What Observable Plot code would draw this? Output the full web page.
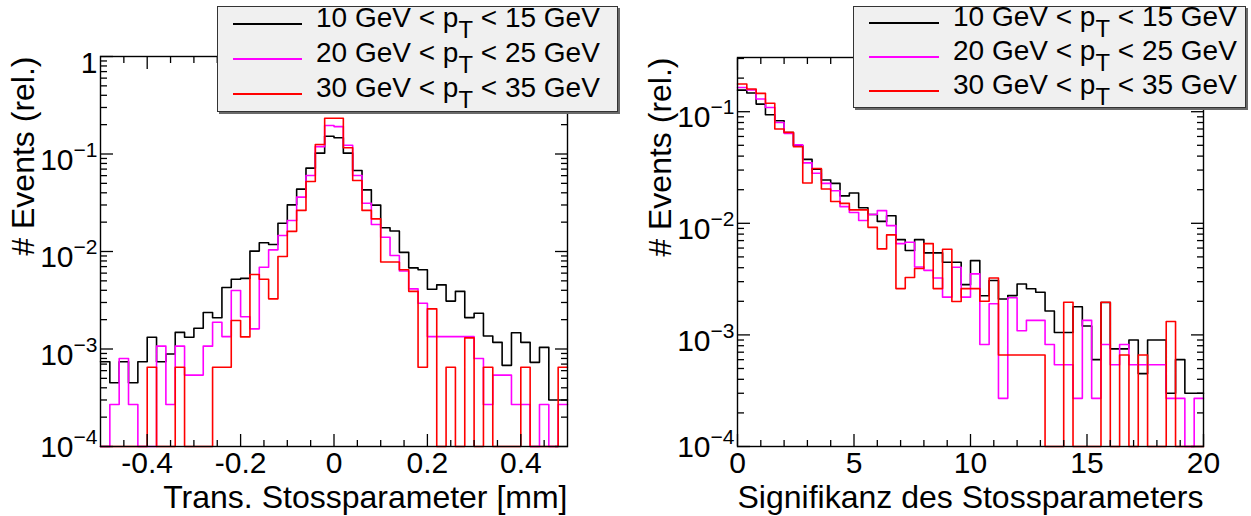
<!DOCTYPE html>
<html>
<head>
<meta charset="utf-8">
<script src="https://cdn.jsdelivr.net/npm/d3@7"></script>
<script src="https://cdn.jsdelivr.net/npm/@observablehq/plot@0.6"></script>
<style>
  body { margin: 0; background: #fff; font-family: "Liberation Sans", Arial, Helvetica, sans-serif; }
  #wrap { position: relative; width: 1251px; height: 516px; overflow: hidden; background: #fff; }
  .panel { position: absolute; top: 0; }
  .legend { position: absolute; background: #f0f0f0; border: 1px solid #333; box-shadow: 2px 2px 0 #6a6a6a; z-index: 5; }
  .legend .ln { position: absolute; height: 2px; }
  .legend .tx { position: absolute; font-size: 28px; line-height: 28px; white-space: nowrap; color: #000; }
  .legend .tx sub { font-size: 0.85em; vertical-align: -0.45em; line-height: 0; }
</style>
</head>
<body>
<div id="wrap"></div>
<script>
// ---------------- data ----------------
const ptLow = [10, 20, 30];
const ptHigh = [15, 25, 35];
const seriesColors = ["#000000", "#ff00ff", "#ff0000"];

// Left: transverse impact parameter, 50 bins in [-0.5, 0.5] mm
const ipRange = [-0.5, 0.5];
const ipPt10 = [7.4e-4, 4.5e-4, 7.4e-4, 4.5e-4, 7.4e-4, 1.32e-3, 7.4e-4, 8.9e-4, 1.48e-3, 1.32e-3,
  1.63e-3, 2.37e-3, 2.09e-3, 4.28e-3, 5.2e-3, 5.3e-3, 0.0101, 0.0123, 0.0118, 0.0195,
  0.0301, 0.0436, 0.0716, 0.102, 0.152, 0.147, 0.102, 0.0678, 0.0429, 0.0299,
  0.0175, 0.0162, 0.0098, 0.0068, 0.0065, 0.0041, 0.00455, 0.0031, 0.0039, 0.0021,
  0.00233, 0.00136, 0.00117, 0.00068, 0.00147, 0.00117, 0.00073, 0.00104, 0.0003, 0.0003];
const ipPt20 = [0, 2.7e-4, 8.0e-4, 2.7e-4, 0, 0, 1.07e-3, 2.7e-4, 1.07e-3, 5.4e-4,
  5.4e-4, 1.07e-3, 1.88e-3, 1.34e-3, 3.98e-3, 2.14e-3, 1.61e-3, 6.9e-3, 0.0104, 0.0146,
  0.0208, 0.0361, 0.0601, 0.119, 0.196, 0.191, 0.123, 0.0601, 0.0313, 0.0189,
  0.014, 0.0091, 0.0063, 0.00414, 0.00295, 0.00134, 0.00134, 0.00134, 0.00134, 0.00134,
  8.0e-4, 2.7e-4, 5.4e-4, 5.4e-4, 2.7e-4, 2.7e-4, 0, 2.7e-4, 0, 2.7e-4];
const ipPt30 = [0, 0, 0, 0, 0, 6.5e-4, 0, 0, 6.5e-4, 0,
  0, 0, 6.5e-4, 6.5e-4, 1.96e-3, 1.33e-3, 5.8e-3, 5.2e-3, 3.27e-3, 8.9e-3,
  0.0161, 0.0264, 0.0522, 0.125, 0.233, 0.233, 0.116, 0.0535, 0.0264, 0.0216,
  0.0078, 0.0078, 0.0065, 0.0039, 6.5e-4, 2.58e-3, 0, 6.5e-4, 0, 1.3e-3,
  0, 6.5e-4, 0, 0, 0, 6.5e-4, 0, 0, 0, 6.5e-4];

// Right: impact parameter significance, 50 bins in [0, 20]
const sigRange = [0, 20];
const sigPt10 = [0.156, 0.147, 0.117, 0.094, 0.083, 0.065, 0.0497, 0.0374, 0.0305, 0.0244,
  0.0228, 0.0176, 0.0187, 0.0138, 0.012, 0.0104, 0.0117, 0.00714, 0.0057, 0.00714,
  0.00543, 0.00543, 0.00448, 0.00448, 0.00282, 0.00463, 0.00224, 0.00307, 0.0021, 0.00225,
  0.00286, 0.00259, 0.00241, 0.00164, 0.00105, 0.00105, 0.00179, 0.0012, 0.0006, 0.00195,
  0.00075, 0.00075, 0.0009, 0.00045, 0.0009, 0.0009, 0.0003, 0.0006, 0.0003, 0.0003];
const sigPt20 = [0.165, 0.157, 0.130, 0.109, 0.080, 0.064, 0.0504, 0.0348, 0.0281, 0.0228,
  0.0196, 0.0141, 0.0125, 0.0106, 0.0120, 0.0130, 0.00953, 0.00658, 0.00676, 0.00406,
  0.00379, 0.00324, 0.00218, 0.00404, 0.00218, 0.00352, 0.00082, 0.0019, 0.00027, 0.00215,
  0.00109, 0.00135, 0.00135, 0.00082, 0.00054, 0.00054, 0.00027, 0.00135, 0.00027, 0.00082,
  0.00054, 0.00082, 0.00054, 0.00054, 0.00054, 0.00054, 0.00027, 0.00027, 0, 0.00027];
const sigPt30 = [0.177, 0.160, 0.146, 0.119, 0.070, 0.0653, 0.0486, 0.0230, 0.0310, 0.0203,
  0.0157, 0.0151, 0.0132, 0.0132, 0.0092, 0.0059, 0.00787, 0.0026, 0.00327, 0.00393,
  0.00658, 0.0026, 0.00585, 0.00199, 0.0026, 0.0026, 0.0020, 0.00324, 0.00066, 0.00066,
  0.00066, 0.00066, 0.00066, 0, 0, 0.00196, 0, 0, 0, 0.00196,
  0, 0.00066, 0, 0.00066, 0, 0, 0.00132, 0, 0, 0];

// tick labels
const ipXTicks = [-0.4, -0.2, 0, 0.2, 0.4];
const sigXTicks = [0, 5, 10, 15, 20];
const yDecades = [1e-4, 1e-3, 1e-2, 1e-1, 1];
const ipTitle = "Trans. Stossparameter [mm]";
const sigTitle = "Signifikanz des Stossparameters";
const yTitle = "# Events (rel.)";

// ---------------- drawing ----------------
const NS = "http://www.w3.org/2000/svg";
const FONT = '"Liberation Sans", Arial, Helvetica, sans-serif';

function panel(o) {
  const floor = o.yDomain[0];
  const data = [];
  o.series.forEach((vals, s) => {
    const n = vals.length, w = (o.range[1] - o.range[0]) / n;
    vals.forEach((v, i) => data.push({s, x: o.range[0] + i * w, y: v > 0 ? v : floor}));
    data.push({s, x: o.range[1], y: vals[n - 1] > 0 ? vals[n - 1] : floor});
  });
  const yMajor = yDecades.filter(d => d >= o.yDomain[0] * 0.999 && d <= o.yDomain[1] * 1.001);
  const yMinor = [];
  for (const d of yDecades) for (let m = 2; m <= 9; m++) { const v = m * d; if (v < o.yDomain[1]) yMinor.push(v); }
  const yFmt = d => d === 1 ? "1" : "10^" + Math.round(Math.log10(d));
  const F = 30, SW = 1.3;
  const svg = Plot.plot({
    width: o.width, height: 516,
    marginLeft: o.ml, marginRight: o.mr, marginTop: o.mt, marginBottom: 70,
    style: {fontFamily: FONT, fontSize: F + "px", background: "transparent", color: "#000"},
    x: {domain: o.range},
    y: {type: "log", domain: o.yDomain},
    color: {type: "ordinal", domain: [0, 1, 2], range: seriesColors},
    marks: [
      Plot.line(data, {x: "x", y: "y", z: "s", stroke: "s", curve: "step-after", strokeWidth: 1.6}),
      Plot.frame({stroke: "#000", strokeWidth: 1.4}),
      Plot.axisX({anchor: "bottom", ticks: o.xMajor, tickSize: 12, dy: -12, fill: "none", strokeWidth: SW}),
      Plot.axisX({anchor: "bottom", ticks: o.xMinor, tickSize: 6, dy: -6, fill: "none", strokeWidth: SW}),
      Plot.axisX({anchor: "top", ticks: o.xMajor, tickSize: 12, dy: 12, fill: "none", strokeWidth: SW}),
      Plot.axisX({anchor: "top", ticks: o.xMinor, tickSize: 6, dy: 6, fill: "none", strokeWidth: SW}),
      Plot.axisY({anchor: "left", ticks: yMajor, tickSize: 13, dx: 13, fill: "none", strokeWidth: SW}),
      Plot.axisY({anchor: "left", ticks: yMinor, tickSize: 7, dx: 7, fill: "none", strokeWidth: SW}),
      Plot.axisY({anchor: "right", ticks: yMajor, tickSize: 13, dx: -13, fill: "none", strokeWidth: SW}),
      Plot.axisY({anchor: "right", ticks: yMinor, tickSize: 7, dx: -7, fill: "none", strokeWidth: SW}),
      Plot.axisX({anchor: "bottom", ticks: o.xMajor, tickSize: 0, tickPadding: 5, tickFormat: o.xFmt, fontSize: F, label: null}),
      Plot.axisY({anchor: "left", ticks: yMajor, tickSize: 0, tickPadding: 3, tickFormat: yFmt, fontSize: F, label: null}),
      Plot.text([o.xTitle], {text: d => d, frameAnchor: "bottom-right", textAnchor: "end", lineAnchor: "middle", dy: 51, fontSize: 32}),
      Plot.text([yTitle], {text: d => d, frameAnchor: "top-left", rotate: -90, textAnchor: "end", lineAnchor: "middle", dx: -77, fontSize: 32})
    ]
  });
  // superscript exponents on the log axis labels
  svg.querySelectorAll('g[aria-label="y-axis tick label"] text').forEach(t => {
    const m = /^10\^(-?\d+)$/.exec(t.textContent);
    if (!m) { t.setAttribute("dy", "0.22em"); return; }
    const isBottom = Math.pow(10, +m[1]) <= o.yDomain[0] * 1.001;
    t.textContent = "";
    const a = document.createElementNS(NS, "tspan");
    a.textContent = "10";
    a.setAttribute("dy", isBottom ? "1" : "6");
    const b = document.createElementNS(NS, "tspan");
    b.textContent = m[1].replace("-", "\u2212");
    b.setAttribute("dy", "-13");
    b.setAttribute("font-size", "21");
    t.append(a, b);
  });
  svg.classList.add("panel");
  svg.style.left = o.left + "px";
  svg.style.width = o.width + "px";
  svg.style.height = "516px";
  svg.style.maxWidth = "none";
  return svg;
}

const wrap = document.getElementById("wrap");
const dashFmt = d => (d < 0 ? "-" : "") + Math.abs(d);

wrap.appendChild(panel({
  left: 0, width: 625, ml: 100, mr: 58, mt: 56,
  range: ipRange, yDomain: [1e-4, 1],
  series: [ipPt10, ipPt20, ipPt30],
  xMajor: ipXTicks,
  xMinor: d3.range(-0.45, 0.5, 0.05).filter(v => Math.abs(Math.round(v * 100) % 20) !== 0),
  xFmt: dashFmt, xTitle: ipTitle
}));

wrap.appendChild(panel({
  left: 625, width: 626, ml: 112, mr: 48, mt: 57,
  range: sigRange, yDomain: [1e-4, 0.306],
  series: [sigPt10, sigPt20, sigPt30],
  xMajor: sigXTicks,
  xMinor: d3.range(1, 20, 1).filter(v => v % 5 !== 0),
  xFmt: d => String(d), xTitle: sigTitle
}));

function legend(L) {
  const box = document.createElement("div");
  box.className = "legend";
  Object.assign(box.style, {left: L.left + "px", top: L.top + "px", width: L.w + "px", height: L.h + "px"});
  ptLow.forEach((lo, i) => {
    const ln = document.createElement("div");
    ln.className = "ln";
    Object.assign(ln.style, {left: L.lx + "px", width: L.lw + "px", top: (L.rows[i] - 1) + "px", background: seriesColors[i]});
    const tx = document.createElement("div");
    tx.className = "tx";
    tx.style.left = L.tx + "px";
    tx.style.top = (L.rows[i] - 20) + "px";
    tx.innerHTML = lo + " GeV &lt; p<sub>T</sub> &lt; " + ptHigh[i] + " GeV";
    box.append(ln, tx);
  });
  wrap.appendChild(box);
}
legend({left: 217, top: 6, w: 399, h: 104, lx: 15, lw: 69, tx: 98, rows: [17, 52, 87]});
legend({left: 853, top: 6, w: 391, h: 100, lx: 15, lw: 70, tx: 99, rows: [16, 50, 84]});
</script>
</body>
</html>
